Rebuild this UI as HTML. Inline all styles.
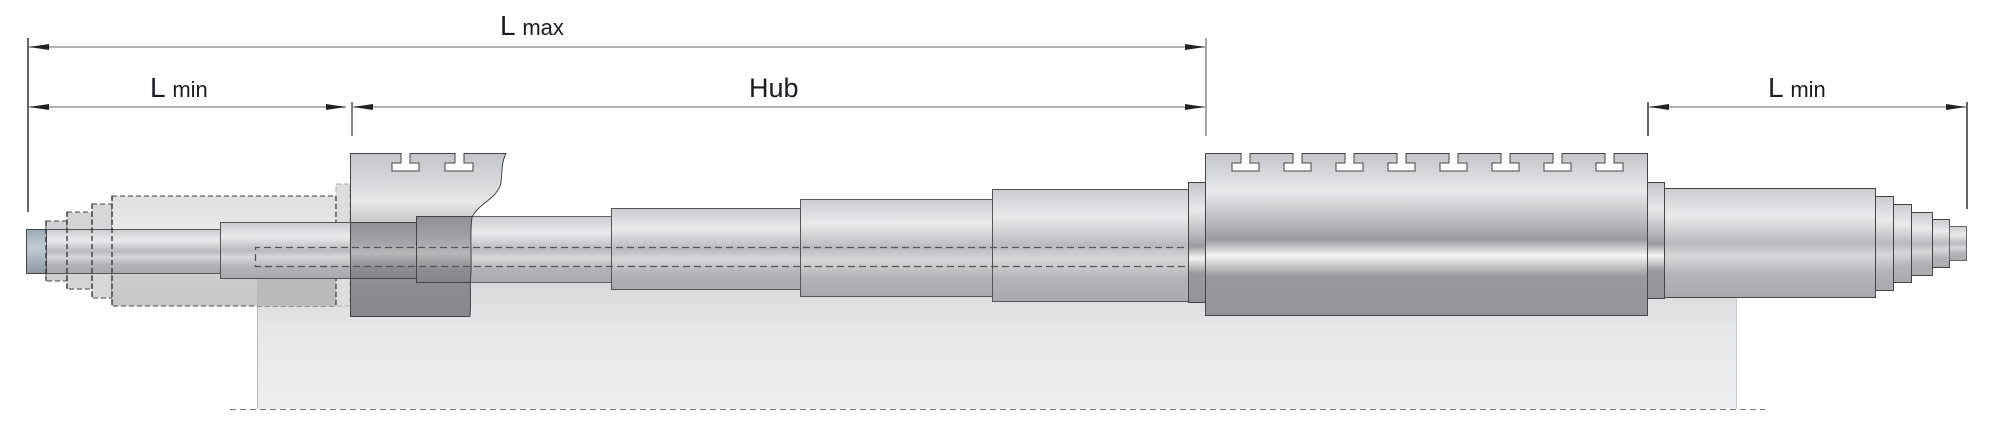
<!DOCTYPE html>
<html><head><meta charset="utf-8"><style>
html,body{margin:0;padding:0;background:#fff;}
svg{display:block;}
text{font-family:"Liberation Sans",sans-serif;fill:#1d1a24;}
</style></head><body>
<svg width="2000" height="433" viewBox="0 0 2000 433" xmlns="http://www.w3.org/2000/svg">
<defs>
<linearGradient id="cyl" x1="0" y1="0" x2="0" y2="1">
<stop offset="0" stop-color="#cbcccf"/><stop offset="0.25" stop-color="#e9eaec"/><stop offset="0.5" stop-color="#b9babd"/><stop offset="0.62" stop-color="#d6d7d9"/><stop offset="0.8" stop-color="#b2b3b6"/><stop offset="1" stop-color="#a9aaad"/></linearGradient>
<linearGradient id="cylD" x1="0" y1="0" x2="0" y2="1">
<stop offset="0" stop-color="#8f9093"/><stop offset="0.35" stop-color="#a3a4a7"/><stop offset="0.55" stop-color="#b6b7b9"/><stop offset="0.8" stop-color="#8d8e91"/><stop offset="1" stop-color="#85868a"/></linearGradient>
<linearGradient id="roll" x1="0" y1="0" x2="0" y2="1">
<stop offset="0" stop-color="#c4c5c8"/><stop offset="0.23" stop-color="#e8e9eb"/><stop offset="0.45" stop-color="#b3b4b7"/><stop offset="0.53" stop-color="#9a9b9e"/><stop offset="0.63" stop-color="#f4f5f6"/><stop offset="0.72" stop-color="#b3b4b6"/><stop offset="0.76" stop-color="#98999c"/><stop offset="1" stop-color="#949598"/></linearGradient>
<linearGradient id="hub" x1="0" y1="0" x2="0" y2="1">
<stop offset="0" stop-color="#c4c5c8"/><stop offset="0.3" stop-color="#e6e7e9"/><stop offset="0.38" stop-color="#d0d1d3"/><stop offset="0.8" stop-color="#8c8d90"/><stop offset="1" stop-color="#87888b"/></linearGradient>
<linearGradient id="sleeve" x1="0" y1="0" x2="0" y2="1">
<stop offset="0" stop-color="#d6d7d9"/><stop offset="0.4" stop-color="#e6e7e9"/><stop offset="1" stop-color="#eeeff0"/></linearGradient>
<linearGradient id="ghost" x1="0" y1="0" x2="0" y2="1">
<stop offset="0" stop-color="#dedfe1"/><stop offset="0.3" stop-color="#e8e9eb"/><stop offset="0.7" stop-color="#cdced0"/><stop offset="1" stop-color="#c6c7c9"/></linearGradient>
<linearGradient id="tip" x1="0" y1="0" x2="0" y2="1">
<stop offset="0" stop-color="#9aa9b3"/><stop offset="0.4" stop-color="#c0ccd4"/><stop offset="1" stop-color="#8d9aa3"/></linearGradient>
<marker id="aR" markerWidth="20" markerHeight="8" refX="20" refY="4" orient="auto" markerUnits="userSpaceOnUse"><path d="M0,1 L20,4 L0,7 Z" fill="#222"/></marker>
<marker id="aL" markerWidth="20" markerHeight="8" refX="0" refY="4" orient="auto" markerUnits="userSpaceOnUse"><path d="M20,1 L0,4 L20,7 Z" fill="#222"/></marker>
</defs>

<!-- sleeve -->
<rect x="257" y="278" width="1480" height="131" fill="url(#sleeve)"/>
<line x1="257.5" y1="278" x2="257.5" y2="409" stroke="#b8b9bb"/>
<line x1="1736.5" y1="290" x2="1736.5" y2="409" stroke="#c8c9cb"/>
<line x1="230" y1="409.5" x2="1765" y2="409.5" stroke="#777" stroke-dasharray="6,4"/>

<!-- ghost parts -->
<g stroke="#666" stroke-dasharray="5,3" stroke-width="1.2">
<rect x="46" y="221" width="21" height="60" fill="#d0d1d3"/>
<rect x="67" y="212" width="25" height="77" fill="#d3d4d6"/>
<rect x="92" y="204" width="20" height="94" fill="#d6d7d9"/>
<rect x="112" y="196" width="224" height="110" fill="url(#ghost)"/>
</g>
<rect x="257" y="278" width="79" height="28" fill="#b9babc"/>
<rect x="336" y="184" width="14" height="122" fill="#dcdddf" stroke="#aaa" stroke-dasharray="5,3"/>
<line x1="336" y1="196" x2="336" y2="306" stroke="#444" stroke-dasharray="5,3" stroke-width="1.3"/>

<!-- left tip & shaft -->
<rect x="26.5" y="229.5" width="20" height="44" fill="url(#tip)" stroke="#444"/>
<rect x="46.5" y="229.5" width="174" height="44" fill="url(#cyl)" stroke="#555"/>
<g stroke="#333" stroke-dasharray="5,3" stroke-width="1.3">
<line x1="46" y1="221" x2="46" y2="281"/><line x1="67" y1="212" x2="67" y2="289"/><line x1="92" y1="204" x2="92" y2="298"/><line x1="112" y1="196" x2="112" y2="306"/>
</g>
<rect x="220.5" y="222.5" width="196" height="56" fill="url(#cyl)" stroke="#555"/>
<rect x="416.5" y="216.5" width="195" height="66" fill="url(#cyl)" stroke="#666"/>

<!-- hub block left -->
<path d="M350.5,153.5 H401 V163 H392 V171 H419 V163 H410 V153.5 H455 V163 H445 V171 H473 V163 H464 V153.5 H506 C500,165 503,178 500,186 C494,202 472,205 470,225 C468,250 472,290 470,316.5 H350.5 Z" fill="url(#hub)" stroke="#444"/>
<rect x="350.5" y="222.5" width="66" height="56" fill="url(#cylD)" stroke="#444"/>
<path d="M416.5,216.5 H472 C469,240 473,265 470,282.5 H416.5 Z" fill="url(#cylD)" stroke="#444"/>

<!-- steps middle -->
<rect x="611.5" y="208.5" width="189" height="81" fill="url(#cyl)" stroke="#555"/>
<rect x="800.5" y="199.5" width="192" height="97" fill="url(#cyl)" stroke="#555"/>
<rect x="992.5" y="189.5" width="197" height="112" fill="url(#cyl)" stroke="#555"/>

<!-- dashed core -->
<path d="M1206,247.5 H255.5 V266.5 H1206" fill="none" stroke="#555" stroke-dasharray="7,4" stroke-width="1.3"/>

<!-- roller -->
<rect x="1188.5" y="182.5" width="18" height="120" fill="url(#roll)" stroke="#444"/>
<path d="M1205.5,153.5 H1241 V163 H1232 V171 H1259 V163 H1250 V153.5" fill="none"/>
<path id="rl" fill="url(#roll)" stroke="#444" d="M1205.5,153.5
H1241 V163 H1232 V171 H1259 V163 H1250 V153.5
H1293 V163 H1284 V171 H1311 V163 H1302 V153.5
H1345 V163 H1336 V171 H1363 V163 H1354 V153.5
H1397 V163 H1388 V171 H1415 V163 H1406 V153.5
H1449 V163 H1440 V171 H1467 V163 H1458 V153.5
H1501 V163 H1492 V171 H1519 V163 H1510 V153.5
H1553 V163 H1544 V171 H1571 V163 H1562 V153.5
H1605 V163 H1596 V171 H1623 V163 H1614 V153.5
H1647.5 V315.5 H1205.5 Z"/>
<rect x="1647.5" y="182.5" width="17" height="116" fill="url(#roll)" stroke="#444"/>
<rect x="1664.5" y="188.5" width="211" height="109" fill="url(#cyl)" stroke="#444"/>
<rect x="1875.5" y="196.5" width="18" height="94" fill="url(#cyl)" stroke="#444"/>
<rect x="1893.5" y="204.5" width="18" height="78" fill="url(#cyl)" stroke="#444"/>
<rect x="1911.5" y="212.5" width="21" height="63" fill="url(#cyl)" stroke="#444"/>
<rect x="1932.5" y="219.5" width="17" height="48" fill="url(#cyl)" stroke="#444"/>
<rect x="1949.5" y="226.5" width="17" height="34" fill="url(#cyl)" stroke="#666"/>

<!-- dimension lines -->
<g stroke="#333" stroke-width="1.5">
<line x1="28" y1="38" x2="28" y2="212"/>
<line x1="352" y1="102" x2="352" y2="136" stroke-width="1.2"/>
<line x1="1206" y1="38" x2="1206" y2="136" stroke="#888"/>
<line x1="1648" y1="102" x2="1648" y2="136"/>
<line x1="1967" y1="102" x2="1967" y2="209"/>
</g>
<g stroke="#9a9a9a" stroke-width="1.5">
<line x1="29" y1="47" x2="1205" y2="47" marker-start="url(#aL)" marker-end="url(#aR)"/>
<line x1="29" y1="107" x2="346" y2="107" marker-start="url(#aL)" marker-end="url(#aR)"/>
<line x1="353" y1="107" x2="1205" y2="107" marker-start="url(#aL)" marker-end="url(#aR)"/>
<line x1="1649" y1="107" x2="1966" y2="107" marker-start="url(#aL)" marker-end="url(#aR)"/>
</g>
<text x="500" y="35" font-size="28">L <tspan font-size="22">max</tspan></text>
<text x="150" y="97" font-size="28">L <tspan font-size="22">min</tspan></text>
<text x="749" y="97" font-size="27">Hub</text>
<text x="1768" y="97" font-size="28">L <tspan font-size="22">min</tspan></text>
</svg>
</body></html>
